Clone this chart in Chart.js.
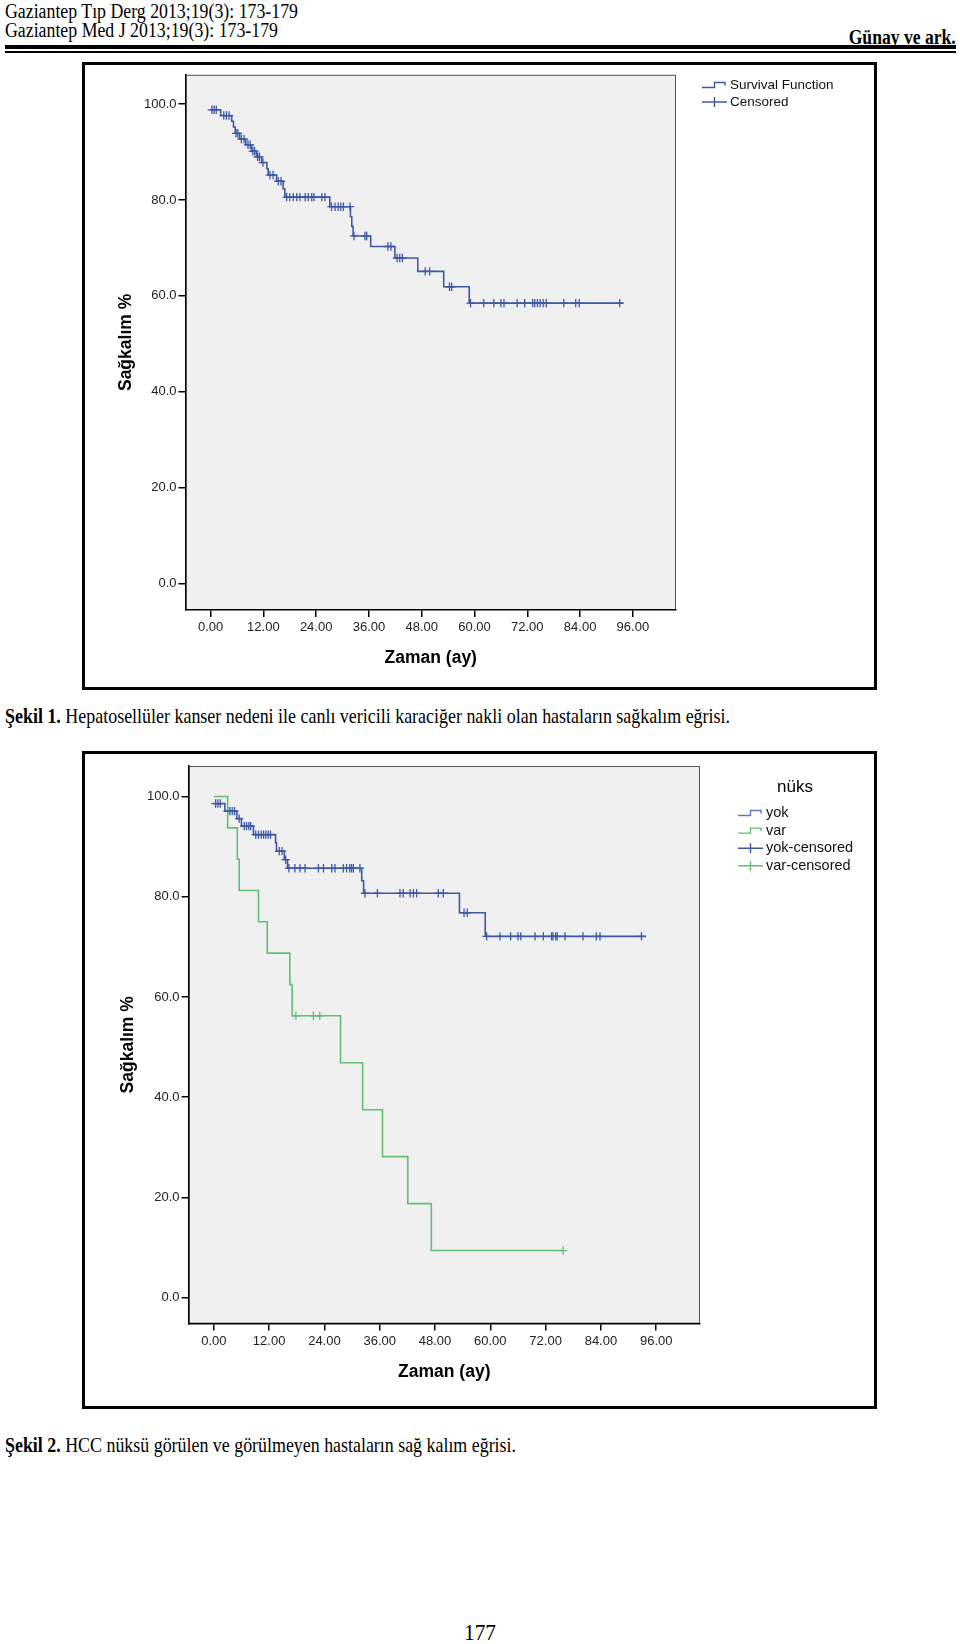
<!DOCTYPE html>
<html>
<head>
<meta charset="utf-8">
<script src="https://cdn.jsdelivr.net/npm/chart.js@4.4.0/dist/chart.umd.min.js"></script>
<style>
  body { margin: 0; width: 960px; height: 1644px; position: relative; overflow: hidden; background: #fff;
         font-family: "Liberation Serif", "Times New Roman", serif; color: #000; }
  .t { position: absolute; white-space: nowrap; line-height: 1; transform-origin: left center; }
  .frame { position: absolute; left: 82px; width: 789px; border: 3px solid #000; background: #fff; }
  .frame canvas { display: block; }
  .rule { position: absolute; left: 5px; width: 951px; background: #000; }
</style>
</head>
<body>

<div class="t" style="left:5px;top:1px;font-size:20px" data-w="293">Gaziantep Tıp Derg 2013;19(3): 173-179</div>
<div class="t" style="left:5px;top:20px;font-size:20px" data-w="273">Gaziantep Med J 2013;19(3): 173-179</div>
<div class="t" style="right:4px;top:27px;font-size:20px;font-weight:bold;transform-origin:right center" data-w="107">Günay ve ark.</div>
<div class="rule" style="top:45px;height:4px"></div>
<div class="rule" style="top:51px;height:2px"></div>

<div class="frame" style="top:62px;height:622px"><canvas id="chart1" width="789" height="622"></canvas></div>
<div class="t" style="left:5px;top:706px;font-size:21px" data-w="725"><b>Şekil 1.</b> Hepatosellüler kanser nedeni ile canlı vericili karaciğer nakli olan hastaların sağkalım eğrisi.</div>

<div class="frame" style="top:751px;height:652px"><canvas id="chart2" width="789" height="652"></canvas></div>
<div class="t" style="left:5px;top:1435px;font-size:21px" data-w="511"><b>Şekil 2.</b> HCC nüksü görülen ve görülmeyen hastaların sağ kalım eğrisi.</div>

<div class="t" style="left:464px;top:1621px;font-size:23px" data-w="32">177</div>

<script>
// ---- data ----
var xTicks = [0, 12, 24, 36, 48, 60, 72, 84, 96];
var yTicks = [0, 20, 40, 60, 80, 100];

// Şekil 1: all patients
var survTime1 = [0, 2.3, 4.8, 5.2, 5.6, 6.6, 8.0, 9.3, 10.4, 11.6, 12.8, 13.1, 15.0, 16.5, 16.9, 27.1, 31.8, 32.1, 32.4, 36.4, 41.9, 47.1, 53.0, 58.8, 93.7];
var survPct1  = [98.8, 97.6, 96.4, 95.2, 93.9, 92.7, 91.5, 90.2, 89.0, 87.8, 86.5, 85.2, 83.9, 82.3, 80.6, 78.6, 76.5, 74.5, 72.5, 70.3, 67.9, 65.1, 61.9, 58.5, 58.5];
var censTime1 = [0.3, 0.8, 1.3, 3.0, 3.6, 4.2, 5.8, 6.2, 7.0, 7.6, 8.5, 9.0, 9.6, 10.0, 10.7, 11.1, 11.9, 13.5, 14.2, 15.4, 16.0,
                 17.3, 18.0, 18.8, 19.6, 20.3, 21.5, 22.2, 23.0, 23.5, 25.3, 26.0, 27.5, 28.3, 29.0, 29.6, 30.2, 31.7,
                 32.6, 35.1, 35.5, 40.3, 41.0, 42.4, 43.0, 43.6, 48.8, 49.8, 54.3, 54.8,
                 59.1, 62.1, 64.4, 66.0, 66.7, 69.7, 71.4, 73.2, 73.7, 74.3, 74.9, 75.6, 76.3, 80.3, 83.0, 83.8, 93.0];
var censPct1  = [98.8, 98.8, 98.8, 97.6, 97.6, 97.6, 93.9, 93.9, 92.7, 92.7, 91.5, 91.5, 90.2, 90.2, 89.0, 89.0, 87.8, 85.2, 85.2, 83.9, 83.9,
                 80.6, 80.6, 80.6, 80.6, 80.6, 80.6, 80.6, 80.6, 80.6, 80.6, 80.6, 78.6, 78.6, 78.6, 78.6, 78.6, 78.6,
                 72.5, 72.5, 72.5, 70.3, 70.3, 67.9, 67.9, 67.9, 65.1, 65.1, 61.9, 61.9,
                 58.5, 58.5, 58.5, 58.5, 58.5, 58.5, 58.5, 58.5, 58.5, 58.5, 58.5, 58.5, 58.5, 58.5, 58.5, 58.5, 58.5];

// Şekil 2: nüks yok
var survTimeYok = [0, 2.4, 5.0, 6.0, 8.6, 13.4, 13.6, 15.3, 16.0, 32.1, 32.5, 53.3, 58.9, 93.8];
var survPctYok  = [98.6, 97.1, 95.6, 94.1, 92.4, 90.8, 89.1, 87.4, 85.7, 83.2, 80.7, 76.8, 72.1, 72.1];
var censTimeYok = [0.4, 0.9, 1.4, 3.0, 3.5, 4.0, 4.5, 5.5, 6.6, 7.1, 7.6, 8.0, 9.1, 9.7, 10.3, 10.8, 11.3, 11.8, 12.3, 14.2, 14.8, 15.6,
                   16.3, 17.6, 18.7, 19.8, 22.7, 23.8, 25.6, 26.3, 28.1, 28.8, 29.5, 29.9, 30.3, 31.7,
                   32.8, 35.5, 40.4, 41.1, 42.6, 43.3, 44.0, 48.7, 49.8, 54.3, 55.0,
                   59.2, 62.1, 64.4, 66.0, 66.6, 69.7, 71.5, 73.3, 73.6, 74.2, 74.5, 76.2, 80.1, 83.0, 83.8, 92.8];
var censPctYok  = [98.6, 98.6, 98.6, 97.1, 97.1, 97.1, 97.1, 95.6, 94.1, 94.1, 94.1, 94.1, 92.4, 92.4, 92.4, 92.4, 92.4, 92.4, 92.4, 89.1, 89.1, 87.4,
                   85.7, 85.7, 85.7, 85.7, 85.7, 85.7, 85.7, 85.7, 85.7, 85.7, 85.7, 85.7, 85.7, 85.7,
                   80.7, 80.7, 80.7, 80.7, 80.7, 80.7, 80.7, 80.7, 80.7, 76.8, 76.8,
                   72.1, 72.1, 72.1, 72.1, 72.1, 72.1, 72.1, 72.1, 72.1, 72.1, 72.1, 72.1, 72.1, 72.1, 72.1, 72.1];

// Şekil 2: nüks var
var survTimeVar = [0, 3.0, 5.1, 5.5, 9.7, 11.6, 16.5, 17.0, 27.5, 32.3, 36.6, 42.1, 47.2, 75.8];
var survPctVar  = [100, 93.75, 87.5, 81.25, 75, 68.75, 62.5, 56.25, 46.88, 37.5, 28.13, 18.75, 9.38, 9.38];
var censTimeVar = [17.8, 21.6, 23.0, 75.8];
var censPctVar  = [56.25, 56.25, 56.25, 9.38];

// ---- helpers ----
var BLUE = '#3e58a6', GREEN = '#62bf6e';

function pts(xs, ys) {
    return xs.map(function (x, i) { return { x: x, y: ys[i] }; });
}

function stepSet(label, xs, ys, color) {
    return { label: label, data: pts(xs, ys), stepped: true, borderColor: color, borderWidth: 1.6,
             pointRadius: 0, fill: false, tension: 0 };
}

function censSet(label, xs, ys, color) {
    return { label: label, data: pts(xs, ys), showLine: false, pointStyle: 'cross', pointRadius: 4.2,
             pointBorderWidth: 1.3, pointBorderColor: color, borderColor: color, pointHoverRadius: 4 };
}

// grey plot area with a frame
var plotBg = {
    id: 'plotBg',
    beforeDraw: function (chart) {
        var a = chart.chartArea, ctx = chart.ctx;
        ctx.save();
        ctx.fillStyle = '#f0f0f0';
        ctx.fillRect(a.left, a.top, a.right - a.left, a.bottom - a.top);
        ctx.strokeStyle = '#555';
        ctx.lineWidth = 1;
        ctx.strokeRect(a.left + 0.5, a.top + 0.5, a.right - a.left - 1, a.bottom - a.top - 1);
        ctx.restore();
    }
};

// SPSS-like legend drawn on the canvas
var kmLegend = {
    id: 'kmLegend',
    afterDraw: function (chart, args, opts) {
        var ctx = chart.ctx;
        ctx.save();
        if (opts.title) {
            ctx.font = opts.titleSize + 'px "Liberation Sans", Arial, sans-serif';
            ctx.fillStyle = '#000';
            ctx.textAlign = 'center';
            ctx.textBaseline = 'middle';
            ctx.fillText(opts.title, opts.titleX, opts.titleY);
        }
        ctx.font = opts.size + 'px "Liberation Sans", Arial, sans-serif';
        ctx.textAlign = 'left';
        ctx.textBaseline = 'middle';
        opts.items.forEach(function (it, i) {
            var y = opts.y + i * opts.gap, x0 = opts.x, w = opts.iconW;
            ctx.strokeStyle = it.color;
            ctx.lineWidth = 1.4;
            ctx.beginPath();
            if (it.kind === 'step') {
                ctx.moveTo(x0, y + 2.5);
                ctx.lineTo(x0 + w * 0.5, y + 2.5);
                ctx.lineTo(x0 + w * 0.5, y - 2.5);
                ctx.lineTo(x0 + w * 0.92, y - 2.5);
                ctx.lineTo(x0 + w * 0.92, y + 0.5);
            } else {
                ctx.moveTo(x0, y);
                ctx.lineTo(x0 + w, y);
                ctx.moveTo(x0 + w * 0.5, y - 5);
                ctx.lineTo(x0 + w * 0.5, y + 5);
            }
            ctx.stroke();
            ctx.fillStyle = '#111';
            ctx.fillText(it.label, x0 + w + 3, y);
        });
        ctx.restore();
    }
};

function makeChart(id, datasets, o) {
    var axisFont = { family: '"Liberation Sans", Arial, sans-serif', size: 13 };
    var titleFont = { family: '"Liberation Sans", Arial, sans-serif', size: 17.5, weight: 'bold' };
    var grid = { display: true, drawOnChartArea: false, drawTicks: true, tickLength: 7, color: '#000', lineWidth: 1.5 };
    var border = { display: true, color: '#000', width: 1.5 };
    return new Chart(document.getElementById(id), {
        type: 'line',
        data: { datasets: datasets },
        options: {
            responsive: false,
            animation: false,
            events: [],
            layout: { padding: { left: 0, top: o.padTop, right: o.padRight, bottom: 0 } },
            plugins: { legend: { display: false }, tooltip: { enabled: false }, kmLegend: o.legend },
            scales: {
                x: {
                    type: 'linear', min: o.xMin, max: o.xMax,
                    afterBuildTicks: function (s) { s.ticks = xTicks.map(function (v) { return { value: v }; }); },
                    afterFit: function (s) { s.height = o.xAxisH; },
                    ticks: { font: axisFont, color: '#222', padding: 3, maxRotation: 0,
                             callback: function (v) { return Number(v).toFixed(2); } },
                    grid: grid, border: border,
                    title: { display: true, text: 'Zaman (ay)', font: titleFont, color: '#000',
                             padding: { top: 0, bottom: o.xTitlePad } }
                },
                y: {
                    type: 'linear', min: o.yMin, max: o.yMax,
                    afterBuildTicks: function (s) { s.ticks = yTicks.map(function (v) { return { value: v }; }); },
                    afterFit: function (s) { s.width = o.yAxisW; },
                    ticks: { font: axisFont, color: '#222', padding: 2,
                             callback: function (v) { return Number(v).toFixed(1); } },
                    grid: grid, border: border,
                    title: { display: true, text: 'Sağkalım %', font: titleFont, color: '#000',
                             padding: { top: o.yTitlePad, bottom: 0 } }
                }
            }
        },
        plugins: [plotBg, kmLegend]
    });
}

makeChart('chart1', [
    stepSet('Survival Function', survTime1, survPct1, BLUE),
    censSet('Censored', censTime1, censPct1, BLUE)
], {
    xMin: -5.7, xMax: 105.8, yMin: -5.5, yMax: 106.1,
    padTop: 8.4, padRight: 198, yAxisW: 100.5, xAxisH: 77,
    xTitlePad: 18.5, yTitlePad: 30.5,
    legend: { x: 617, y: 20, gap: 17, iconW: 25, size: 13.5,
              items: [{ label: 'Survival Function', color: BLUE, kind: 'step' },
                      { label: 'Censored', color: BLUE, kind: 'cross' }] }
});

makeChart('chart2', [
    stepSet('yok', survTimeYok, survPctYok, BLUE),
    stepSet('var', survTimeVar, survPctVar, GREEN),
    censSet('yok-censored', censTimeYok, censPctYok, BLUE),
    censSet('var-censored', censTimeVar, censPctVar, GREEN)
], {
    xMin: -5.47, xMax: 105.5, yMin: -5.2, yMax: 106.1,
    padTop: 12, padRight: 174, yAxisW: 103.6, xAxisH: 82.4,
    xTitlePad: 23.5, yTitlePad: 32.5,
    legend: { title: 'nüks', titleX: 710, titleY: 33, titleSize: 17,
              x: 653, y: 59, gap: 17.6, iconW: 25, size: 14.5,
              items: [{ label: 'yok', color: '#5f78c4', kind: 'step' },
                      { label: 'var', color: GREEN, kind: 'step' },
                      { label: 'yok-censored', color: BLUE, kind: 'cross' },
                      { label: 'var-censored', color: GREEN, kind: 'cross' }] }
});

// squeeze the page text to the widths seen in the scan
document.querySelectorAll('[data-w]').forEach(function (el) {
    var w = el.getBoundingClientRect().width;
    el.style.transform = 'scaleX(' + (parseFloat(el.dataset.w) / w) + ')';
});
</script>
</body>
</html>
